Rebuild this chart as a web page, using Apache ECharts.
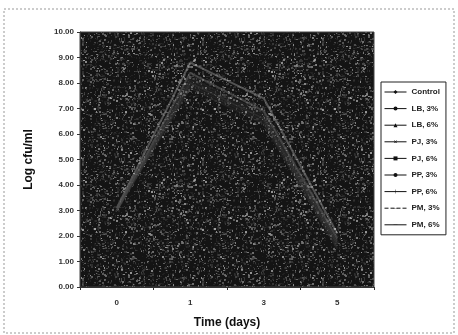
<!DOCTYPE html>
<html>
<head>
<meta charset="utf-8">
<script src="https://cdn.jsdelivr.net/npm/echarts@6/dist/echarts.min.js"></script>
<style>
  html, body { margin: 0; padding: 0; background: #fff; }
  #chart { width: 458px; height: 335px; }
</style>
</head>
<body>
<div id="chart"></div>
<script>
// data
var days = ["0", "1", "3", "5"];
var seriesNames = ["Control", "LB, 3%", "LB, 6%", "PJ, 3%", "PJ, 6%", "PP, 3%", "PP, 6%", "PM, 3%", "PM, 6%"];
var control = [3.1, 8.8, 7.4, 2.1];
var lb3 = [3.0, 8.4, 6.9, 1.9];
var lb6 = [3.0, 8.2, 6.8, 1.8];
var pj3 = [3.1, 8.0, 6.6, 1.7];
var pj6 = [3.0, 7.9, 6.5, 1.6];
var pp3 = [3.1, 8.1, 6.7, 1.8];
var pp6 = [3.0, 7.8, 6.4, 1.5];
var pm3 = [3.1, 8.3, 7.0, 2.0];
var pm6 = [3.0, 8.0, 6.6, 1.7];
var yTicks = [0, 10, 1];

var allData = [control, lb3, lb6, pj3, pj6, pp3, pp6, pm3, pm6];
// tiny corner specks keep the path's box square so the glyph isn't stretched
var corners = "M0,0L0.01,0L0,0.01Z M10,10L9.99,10L10,9.99Z ";
var dash = "path://" + corners + "M0,4.6L10,4.6L10,5.4L0,5.4Z";
var bar = "path://" + corners + "M4.5,0L5.5,0L5.5,10L4.5,10Z";
var cross = "path://" + corners + "M1,2L3,2L5,4L7,2L9,2L6,5L9,8L7,8L5,6L3,8L1,8L4,5Z";
var symbols = ["diamond", "circle", "triangle", cross, "rect", "circle", bar, dash, dash];
var symbolSizes = [5, 5, 5, 5, 4, 4, 6, 4, 4];
var lineTypes = ["solid", "solid", "solid", "solid", "solid", "solid", "solid", "dashed", "solid"];
var lineColors = ["rgba(185,185,185,0.38)", "rgba(175,175,175,0.3)", "rgba(70,70,70,0.25)", "rgba(70,70,70,0.25)",
  "rgba(70,70,70,0.25)", "rgba(70,70,70,0.25)", "rgba(70,70,70,0.25)", "rgba(70,70,70,0.25)", "rgba(70,70,70,0.25)"];

// grainy dark texture for the scanned plot area
function makeNoise() {
  var c = document.createElement("canvas");
  c.width = 120; c.height = 120;
  var ctx = c.getContext("2d");
  ctx.fillStyle = "#141414";
  ctx.fillRect(0, 0, 120, 120);
  var s = 9871;
  function rnd() { s = (s * 1103515245 + 12345) % 2147483648; return s / 2147483648; }
  for (var i = 0; i < 2600; i++) {
    var g = Math.floor(30 + rnd() * rnd() * 170);
    ctx.fillStyle = "rgba(" + g + "," + g + "," + g + ",0.8)";
    ctx.fillRect(Math.floor(rnd() * 120), Math.floor(rnd() * 120), 1 + Math.floor(rnd() * 2), 1 + Math.floor(rnd() * 2));
  }
  return c;
}

var chart = echarts.init(document.getElementById("chart"));

var series = seriesNames.map(function (name, i) {
  return {
    name: name,
    type: "line",
    data: allData[i],
    symbol: symbols[i],
    symbolSize: symbolSizes[i],
    showSymbol: false,
    itemStyle: { color: lineColors[i] },
    lineStyle: { color: lineColors[i], width: 2, type: lineTypes[i] },
    silent: true
  };
});

chart.setOption({
  animation: false,
  backgroundColor: "#fff",
  textStyle: { fontFamily: "Arial, 'Liberation Sans', sans-serif" },
  graphic: [{
    type: "rect",
    shape: { x: 4, y: 9, width: 450, height: 324 },
    style: { fill: "none", stroke: "#999", lineWidth: 1, lineDash: [2, 2] },
    silent: true
  }],
  grid: {
    left: 80, right: 84, top: 32, bottom: 48,
    show: true,
    backgroundColor: { image: makeNoise(), repeat: "repeat" },
    borderColor: "#444",
    borderWidth: 1
  },
  legend: {
    orient: "vertical",
    left: 381, top: 82,
    padding: [6, 6, 6, 3],
    itemGap: 8.6,
    itemWidth: 22,
    itemHeight: 5,
    backgroundColor: "#fff",
    borderColor: "#222",
    borderWidth: 1,
    itemStyle: { color: "#111" },
    lineStyle: { color: "#111", width: 1 },
    textStyle: { fontSize: 8, fontWeight: "bold", color: "#222" },
    data: seriesNames
  },
  xAxis: {
    type: "category",
    data: days,
    boundaryGap: true,
    name: "Time (days)",
    nameLocation: "middle",
    nameGap: 30,
    nameTextStyle: { fontSize: 12, fontWeight: "bold", color: "#111" },
    axisLine: { lineStyle: { color: "#333", width: 1 } },
    axisTick: { show: true, length: 3, lineStyle: { color: "#333" } },
    axisLabel: { fontSize: 8, fontWeight: "bold", color: "#333", margin: 12 },
    splitLine: { show: false }
  },
  yAxis: {
    type: "value",
    min: yTicks[0],
    max: yTicks[1],
    interval: yTicks[2],
    name: "Log cfu/ml",
    nameLocation: "middle",
    nameRotate: 90,
    nameGap: 45,
    nameTextStyle: { fontSize: 12, fontWeight: "bold", color: "#111" },
    axisLine: { show: true, lineStyle: { color: "#333", width: 1 } },
    axisTick: { show: true, length: 3, lineStyle: { color: "#333" } },
    axisLabel: {
      fontSize: 8, fontWeight: "bold", color: "#333", margin: 6,
      formatter: function (v) { return v.toFixed(2); }
    },
    splitLine: { show: false }
  },
  series: series
});
</script>
</body>
</html>
